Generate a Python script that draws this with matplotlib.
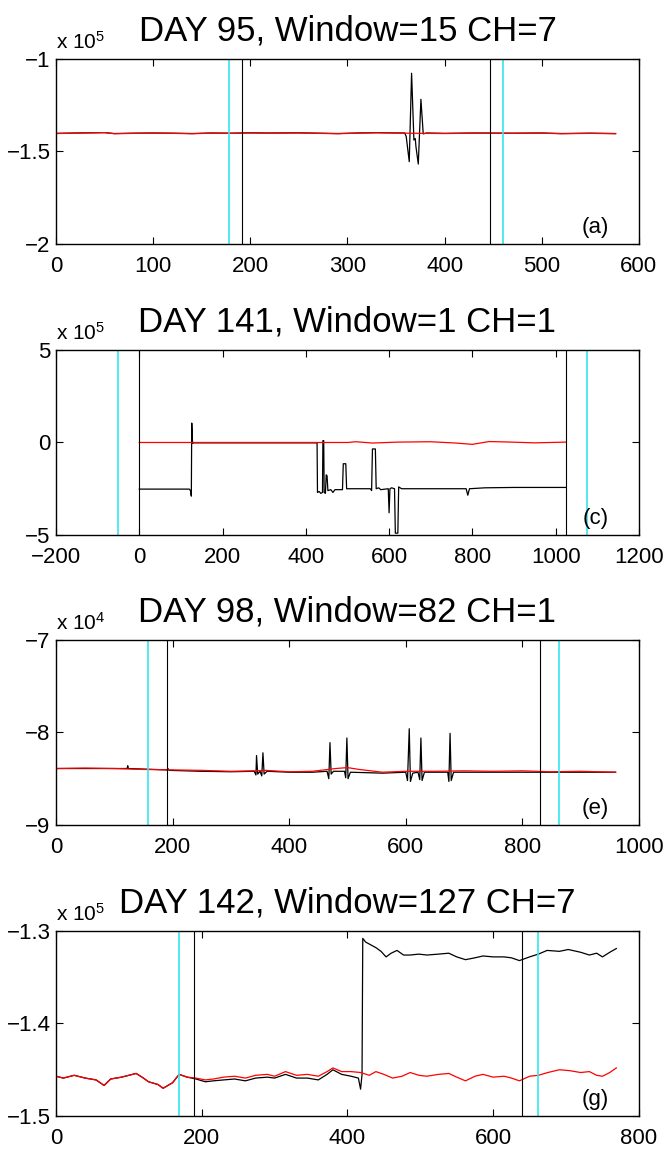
#!/usr/bin/env python3
import matplotlib

matplotlib.use("Agg")
import matplotlib.pyplot as plt

plt.rcParams["font.family"] = ["Liberation Sans", "DejaVu Sans"]
plt.rcParams["mathtext.default"] = "regular"

# ---- panel (a): DAY 95, Window=15 CH=7, values in units of 1e5
A_TITLE = "DAY 95, Window=15 CH=7"
A_RED_X = [0, 20, 50, 60, 80, 100, 120, 140, 160, 180, 200, 220, 250, 290, 310, 330, 360, 400, 430, 470, 500, 520, 550, 576]
A_RED_Y = [-1.403, -1.401, -1.398, -1.404, -1.402, -1.401, -1.402, -1.404, -1.401, -1.402, -1.400, -1.401, -1.400, -1.404,
           -1.401, -1.399, -1.401, -1.403, -1.401, -1.402, -1.401, -1.404, -1.402, -1.404]
A_BLK_X = [0, 20, 50, 60, 80, 100, 120, 140, 160, 180, 200, 220, 250, 290, 310, 330, 355, 359, 360.5, 363.6, 366, 368.4,
           369.8, 370.5, 372.9, 375.6, 378, 381.5, 400, 430, 470, 500, 520, 550, 576]
A_BLK_Y = [-1.402, -1.400, -1.398, -1.403, -1.401, -1.400, -1.401, -1.403, -1.400, -1.401, -1.399, -1.400, -1.399, -1.403,
           -1.400, -1.398, -1.400, -1.400, -1.420, -1.555, -1.077, -1.438, -1.430, -1.474, -1.568, -1.218, -1.405, -1.400,
           -1.402, -1.400, -1.401, -1.400, -1.403, -1.401, -1.403]
A_CYAN = [178, 460]
A_BLACK = [191, 447]

# ---- panel (c): DAY 141, Window=1 CH=1, values in units of 1e5
C_TITLE = "DAY 141, Window=1 CH=1"
C_RED_X = [0, 200, 400, 500, 520, 560, 620, 700, 760, 800, 840, 880, 950, 1024]
C_RED_Y = [0.0, 0.0, 0.0, 0.0, 0.04, -0.03, 0.02, 0.04, -0.03, -0.1, 0.05, 0.03, -0.02, 0.02]
C_BLK_X = [0, 120, 123, 125, 126, 128, 130, 427, 428, 432, 436, 440, 441, 443, 444, 447, 449, 451, 453, 460, 465, 470,
           488, 490, 496, 498, 555, 558, 560, 567, 569, 575, 580, 598, 600, 602, 606, 613, 615, 621, 623, 630, 700, 785,
           789, 793, 830, 900, 1024]
C_BLK_Y = [-2.52, -2.52, -2.6, -2.9, 1.05, -0.05, -0.02, -0.02, -2.7, -2.65, -2.75, -2.7, 0.1, 0.1, -2.7, -2.75, -1.75,
           -1.8, -2.6, -2.55, -2.7, -2.55, -2.55, -1.15, -1.15, -2.5, -2.5, -2.6, -0.35, -0.35, -2.5, -2.45, -2.55, -2.5,
           -3.8, -2.5, -2.45, -2.5, -4.9, -4.9, -2.4, -2.5, -2.5, -2.5, -2.85, -2.5, -2.45, -2.43, -2.43]
C_CYAN = [-50, 1075]
C_BLACK = [0, 1024]

# ---- panel (e): DAY 98, Window=82 CH=1, values in units of 1e4
E_TITLE = "DAY 98, Window=82 CH=1"
E_RED_X = [0, 50, 100, 150, 200, 250, 300, 340, 360, 400, 440, 480, 500, 520, 560, 600, 650, 700, 750, 800, 850, 900, 960]
E_RED_Y = [-8.39, -8.385, -8.39, -8.40, -8.405, -8.41, -8.42, -8.415, -8.41, -8.425, -8.42, -8.39, -8.38, -8.40, -8.43,
           -8.42, -8.42, -8.415, -8.42, -8.415, -8.425, -8.42, -8.43]
E_BLK_X = [0, 100, 122, 123, 124, 190, 192, 194, 250, 300, 340, 343, 344, 346, 350, 353, 355, 357, 362, 400, 440, 465,
           468, 470, 472, 476, 495, 497, 499, 501, 505, 560, 600, 603, 606, 608, 612, 621, 624, 626, 628, 632, 672, 674,
           676, 678, 682, 750, 850, 960]
E_BLK_Y = [-8.39, -8.39, -8.39, -8.36, -8.39, -8.405, -8.39, -8.41, -8.42, -8.425, -8.42, -8.46, -8.25, -8.45, -8.42,
           -8.47, -8.22, -8.45, -8.42, -8.43, -8.43, -8.42, -8.5, -8.11, -8.45, -8.42, -8.42, -8.49, -8.06, -8.5, -8.43,
           -8.44, -8.43, -8.52, -7.96, -8.53, -8.44, -8.43, -8.51, -8.06, -8.52, -8.43, -8.43, -8.53, -8.01, -8.52,
           -8.43, -8.43, -8.43, -8.43]
E_CYAN = [158, 863]
E_BLACK = [191, 831]

# ---- panel (g): DAY 142, Window=127 CH=7, values in units of 1e5
G_TITLE = "DAY 142, Window=127 CH=7"
G_RED_X = [0, 10, 25, 40, 55, 66, 75, 90, 110, 120, 127, 140, 147, 160, 169, 180, 192, 205, 216, 230, 245, 260, 274, 290,
           300, 315, 330, 345, 360, 372, 380, 392, 405, 418, 430, 439, 450, 462, 475, 486, 498, 509, 525, 539, 550, 562,
           575, 586, 600, 615, 625, 636, 650, 662, 675, 691, 705, 720, 732, 742, 750, 760, 769]
G_RED_Y = [-1.457, -1.459, -1.456, -1.459, -1.461, -1.467, -1.460, -1.458, -1.454, -1.459, -1.463, -1.466, -1.470, -1.464,
           -1.455, -1.458, -1.459, -1.461, -1.460, -1.458, -1.457, -1.459, -1.456, -1.455, -1.457, -1.452, -1.456, -1.455,
           -1.457, -1.452, -1.448, -1.452, -1.452, -1.453, -1.456, -1.452, -1.455, -1.459, -1.457, -1.453, -1.456, -1.457,
           -1.455, -1.454, -1.458, -1.462, -1.457, -1.455, -1.458, -1.457, -1.459, -1.462, -1.457, -1.456, -1.453, -1.450,
           -1.451, -1.453, -1.452, -1.456, -1.457, -1.453, -1.448]
G_BLK_X = [0, 10, 25, 40, 55, 66, 75, 90, 110, 120, 127, 140, 147, 160, 169, 180, 192, 205, 216, 230, 245, 260, 274, 290,
           300, 315, 330, 345, 360, 372, 380, 392, 405, 415, 418, 420, 421, 425, 432, 439, 446, 453, 460, 468, 477, 486,
           498, 509, 525, 539, 550, 562, 575, 586, 600, 615, 625, 636, 650, 662, 674, 691, 703, 720, 732, 742, 750, 760,
           769]
G_BLK_Y = [-1.457, -1.459, -1.456, -1.459, -1.461, -1.467, -1.460, -1.458, -1.454, -1.459, -1.463, -1.466, -1.470, -1.464,
           -1.455, -1.458, -1.460, -1.463, -1.462, -1.461, -1.460, -1.462, -1.459, -1.458, -1.459, -1.455, -1.459, -1.459,
           -1.461, -1.455, -1.450, -1.455, -1.457, -1.459, -1.471, -1.455, -1.308, -1.312, -1.315, -1.318, -1.322, -1.328,
           -1.324, -1.321, -1.326, -1.326, -1.325, -1.326, -1.325, -1.324, -1.328, -1.331, -1.329, -1.327, -1.328, -1.328,
           -1.329, -1.332, -1.328, -1.325, -1.321, -1.322, -1.320, -1.323, -1.326, -1.324, -1.328, -1.323, -1.319]
G_CYAN = [169, 661]
G_BLACK = [190, 639]

PANELS = [
    dict(title=A_TITLE, tag="(a)", exp=5, xlim=(0, 600), xticks=range(0, 601, 100), ylim=(-2, -1), yticks=[-2, -1.5, -1],
         red=(A_RED_X, A_RED_Y), blk=(A_BLK_X, A_BLK_Y), cyan=A_CYAN, black=A_BLACK),
    dict(title=C_TITLE, tag="(c)", exp=5, xlim=(-200, 1200), xticks=range(-200, 1201, 200), ylim=(-5, 5), yticks=[-5, 0, 5],
         red=(C_RED_X, C_RED_Y), blk=(C_BLK_X, C_BLK_Y), cyan=C_CYAN, black=C_BLACK),
    dict(title=E_TITLE, tag="(e)", exp=4, xlim=(0, 1000), xticks=range(0, 1001, 200), ylim=(-9, -7), yticks=[-9, -8, -7],
         red=(E_RED_X, E_RED_Y), blk=(E_BLK_X, E_BLK_Y), cyan=E_CYAN, black=E_BLACK),
    dict(title=G_TITLE, tag="(g)", exp=5, xlim=(0, 800), xticks=range(0, 801, 200), ylim=(-1.5, -1.3),
         yticks=[-1.5, -1.4, -1.3], red=(G_RED_X, G_RED_Y), blk=(G_BLK_X, G_BLK_Y), cyan=G_CYAN, black=G_BLACK),
]


def fmt(v: float) -> str:
    return f"{v:g}".replace("-", "\u2212")


def draw_panel(ax, p: dict) -> None:
    ax.plot(*p["blk"], color="black", linewidth=0.9)
    ax.plot(*p["red"], color="red", linewidth=0.9)
    for x in p["cyan"]:
        ax.axvline(x, color="#33e6f0", linewidth=1.2)
    for x in p["black"]:
        ax.axvline(x, color="black", linewidth=0.8)
    ax.set_xlim(*p["xlim"])
    ax.set_ylim(*p["ylim"])
    ax.set_xticks(list(p["xticks"]))
    ax.set_xticklabels([fmt(v) for v in p["xticks"]])
    ax.set_yticks(p["yticks"])
    ax.set_yticklabels([fmt(v) for v in p["yticks"]])
    ax.tick_params(direction="in", length=5, width=0.8, top=True, right=True, labelsize=16)
    ax.tick_params(axis="x", pad=9)
    ax.tick_params(axis="y", pad=4)
    for spine in ax.spines.values():
        spine.set_linewidth(1.0)
    ax.set_title(p["title"], fontsize=25, pad=13)
    ax.annotate(f"x 10$^{{{p['exp']}}}$", xy=(0, 1), xycoords="axes fraction", xytext=(0, 7),
                textcoords="offset points", ha="left", va="baseline", fontsize=15)
    ax.text(0.925, 0.09, p["tag"], transform=ax.transAxes, ha="center", va="center", fontsize=16)


def main() -> None:
    fig = plt.figure(figsize=(6.7, 11.52), dpi=100)
    bottoms = [0.7882, 0.5356, 0.2839, 0.03125]
    for p, b in zip(PANELS, bottoms):
        ax = fig.add_axes([0.0836, b, 0.870, 0.1606])
        draw_panel(ax, p)
    fig.savefig("out.png", dpi=100)
    plt.close(fig)


if __name__ == "__main__":
    main()
